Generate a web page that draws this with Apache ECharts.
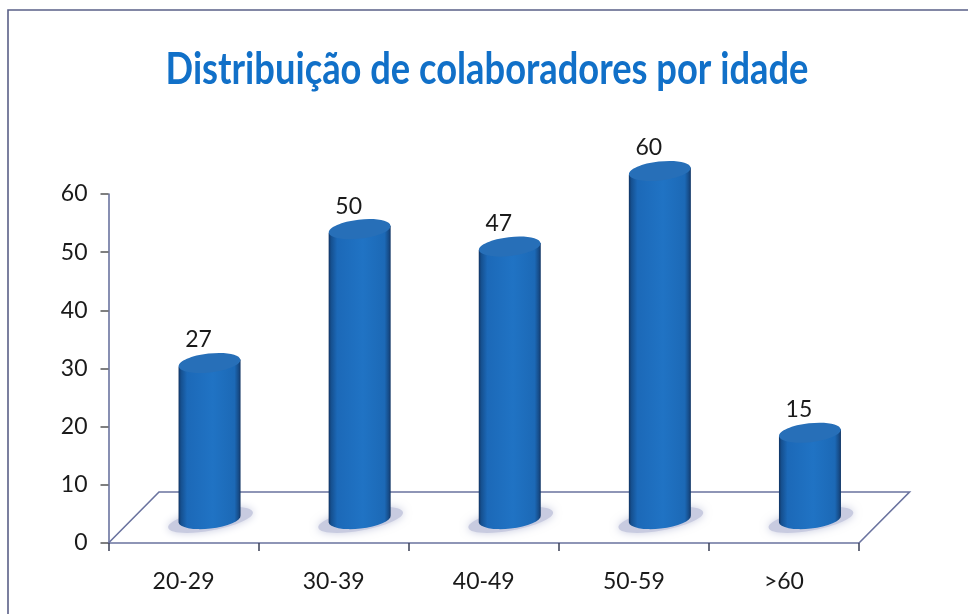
<!DOCTYPE html>
<html>
<head>
<meta charset="utf-8">
<style>html,body{margin:0;padding:0;background:#fff}#c{width:968px;height:614px}</style>
<script src="https://cdn.jsdelivr.net/npm/echarts@6/dist/echarts.min.js"></script>
</head>
<body>
<div id="c"></div>
<script>
var titleText = 'Distribuição de colaboradores por idade';
var categories = ['20-29', '30-39', '40-49', '50-59', '>60'];
var values = [27, 50, 47, 60, 15];
var yTicks = [0, 10, 20, 30, 40, 50, 60];

var FONT = 'Lato, sans-serif';
var AXIS = '#6a739f';

function renderFloor(params, api) {
  var cs = params.coordSys;
  var x0 = cs.x, x1 = cs.x + cs.width, y = cs.y + cs.height;
  var dx = 50.5, dy = 51;
  return {
    type: 'group', silent: true,
    children: [{
      type: 'polyline',
      shape: { points: [[x0, y], [x0 + dx, y - dy], [x1 + dx, y - dy], [x1, y]] },
      style: { stroke: AXIS, lineWidth: 1.6, fill: null }
    }]
  };
}

function renderBar(params, api) {
  var i = api.value(0), v = api.value(1);
  var base = api.coord([i, 0]);
  var top = api.coord([i, v]);
  var cx = base[0] + 26, by = base[1] - 24, ty = top[1] - 23;
  var rx = 31, ry = 9.5, tilt = 3.5, rot = 0.113;
  var d = 'M' + (cx - rx) + ' ' + (ty + tilt) +
    'L' + (cx - rx) + ' ' + (by + tilt) +
    'A' + rx + ' ' + ry + ' ' + (-rot * 180 / Math.PI) + ' 0 0 ' + (cx + rx) + ' ' + (by - tilt) +
    'L' + (cx + rx) + ' ' + (ty - tilt) + 'Z';
  var side = {
    type: 'linear', x: 0, y: 0, x2: 1, y2: 0,
    colorStops: [
      { offset: 0, color: '#10315f' }, { offset: 0.04, color: '#154f8e' },
      { offset: 0.14, color: '#1c69b8' }, { offset: 0.55, color: '#2073c4' },
      { offset: 0.9, color: '#1c69b6' }, { offset: 0.97, color: '#164a85' },
      { offset: 1, color: '#10315f' }
    ]
  };
  return {
    type: 'group',
    children: [
      {
        type: 'ellipse', silent: true,
        shape: { cx: 0, cy: 0, rx: 43, ry: 10.5 },
        x: cx + 1, y: by + 1, rotation: 0.18,
        style: { fill: '#c8cbe0', shadowBlur: 9, shadowColor: '#c8cbe0' }
      },
      { type: 'path', shape: { pathData: d }, style: { fill: side } },
      {
        type: 'ellipse',
        shape: { cx: 0, cy: 0, rx: rx, ry: ry },
        x: cx, y: ty, rotation: rot,
        style: { fill: '#276fb8' }
      },
      {
        type: 'text',
        x: base[0] + 15, y: top[1] - 46,
        style: { text: String(v), fill: '#1a1a1a', font: '23px ' + FONT, align: 'center', verticalAlign: 'middle' }
      }
    ]
  };
}

var chart = echarts.init(document.getElementById('c'), null, { renderer: 'canvas' });
chart.setOption({
  animation: false,
  backgroundColor: '#fff',
  grid: { left: 108.5, right: 109, top: 194, bottom: 71, containLabel: false },
  xAxis: {
    type: 'category', data: categories, boundaryGap: true,
    axisLine: { lineStyle: { color: AXIS, width: 1.6 } },
    axisTick: { show: true, alignWithLabel: false, length: 8, lineStyle: { color: '#3a3f55', width: 1.5 } },
    axisLabel: { color: '#1a1a1a', fontFamily: FONT, fontSize: 23, margin: 27 }
  },
  yAxis: {
    type: 'value', min: yTicks[0], max: yTicks[yTicks.length - 1], interval: yTicks[1] - yTicks[0],
    axisLine: { show: true, lineStyle: { color: AXIS, width: 1.6 } },
    axisTick: { show: true, length: 8, lineStyle: { color: '#555', width: 1.5 } },
    axisLabel: { color: '#1a1a1a', fontFamily: FONT, fontSize: 23, margin: 21 },
    splitLine: { show: false }
  },
  graphic: [
    { type: 'polyline', silent: true, shape: { points: [[8, 614], [8, 10], [968, 10]] },
      style: { stroke: '#5a6088', lineWidth: 1.6, fill: null } },
    { type: 'text', silent: true, x: 487, y: 70, scaleX: 0.825,
      style: { text: titleText, fill: '#1170c8', font: 'bold 44px ' + FONT, align: 'center', verticalAlign: 'middle' } }
  ],
  series: [
    { type: 'custom', coordinateSystem: 'cartesian2d', renderItem: renderFloor, data: [[0, 0]], silent: true, z: 1 },
    { type: 'custom', coordinateSystem: 'cartesian2d', renderItem: renderBar, z: 2,
      encode: { x: 0, y: 1 },
      data: values.map(function (v, i) { return [i, v]; }) }
  ]
});
</script>
</body>
</html>
